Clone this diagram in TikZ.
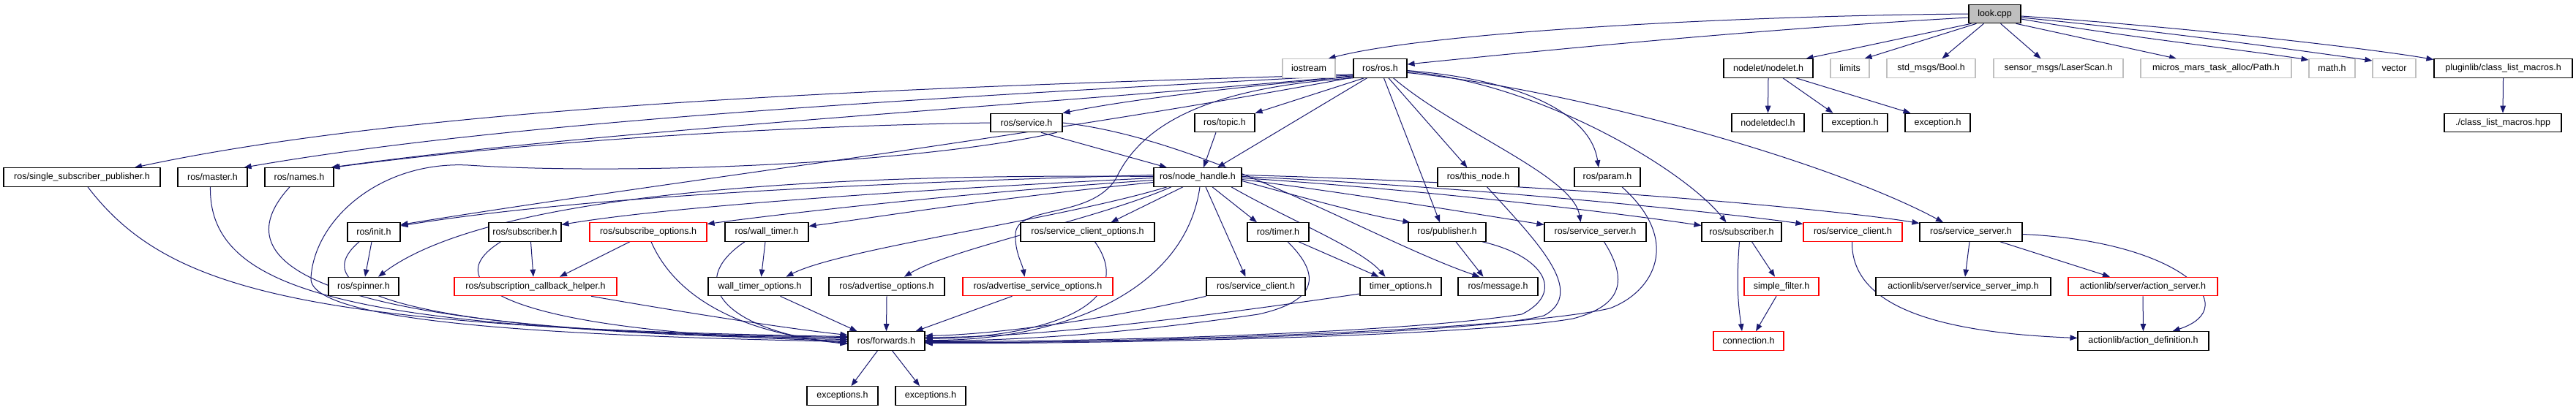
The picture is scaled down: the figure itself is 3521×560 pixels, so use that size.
\documentclass[tikz,border=0pt]{standalone}
\usepackage{fontspec}
\setmainfont{Liberation Sans}
\usetikzlibrary{arrows.meta}
\definecolor{edgeblue}{HTML}{191970}
\definecolor{lightframe}{HTML}{BFBFBF}
\definecolor{lookfill}{HTML}{BFBFBF}
\definecolor{redframe}{HTML}{FF0000}
\pgfdeclarelayer{backmost}
\pgfdeclarelayer{edgelayer}
\pgfsetlayers{backmost,edgelayer,main}
\begin{document}
\begin{tikzpicture}[x=1pt,y=-1pt,
  bx/.style={draw=black,fill=white,line width=1.1pt,inner sep=0pt,minimum height=25.5pt,
    font=\fontsize{12.5}{15}\selectfont,anchor=center},
  gbx/.style={bx,draw=lightframe},
  rbx/.style={bx,draw=redframe},
  e/.style={draw=edgeblue,line width=1pt,-{Triangle[length=10pt,width=7.5pt]}}]
\useasboundingbox (0,0) rectangle (3521,560);
\begin{pgfonlayer}{backmost}
\fill[white] (0,0) rectangle (3521,560);
\end{pgfonlayer}
% row 1
\node[bx,fill=lookfill,minimum width=71pt] (look) at (2726.5,19) {look.cpp};
% row 2
\node[gbx,minimum width=72pt] (iostream) at (1789,93.5) {iostream};
\node[bx,minimum width=73pt] (ros) at (1886.5,93.5) {ros/ros.h};
\node[bx,minimum width=122pt] (nodelet) at (2417,93.5) {nodelet/nodelet.h};
\node[gbx,minimum width=53pt] (limits) at (2528.5,93.5) {limits};
\node[gbx,minimum width=121pt] (bool) at (2639.5,93.5) {std\_msgs/Bool.h};
\node[gbx,minimum width=177pt] (laser) at (2813.5,93.5) {sensor\_msgs/LaserScan.h};
\node[gbx,minimum width=206pt] (path) at (3029,93.5) {micros\_mars\_task\_alloc/Path.h};
\node[gbx,minimum width=63pt] (math) at (3187.5,93.5) {math.h};
\node[gbx,minimum width=59pt] (vector) at (3272.5,93.5) {vector};
\node[bx,minimum width=189pt] (plugin) at (3421.5,93.5) {pluginlib/class\_list\_macros.h};
% row 3
\node[bx,minimum width=98pt] (service) at (1403,168) {ros/service.h};
\node[bx,minimum width=82pt] (topic) at (1674,168) {ros/topic.h};
\node[bx,minimum width=99pt] (ndecl) at (2416.5,168) {nodeletdecl.h};
\node[bx,minimum width=89pt] (exca) at (2535.5,168) {exception.h};
\node[bx,minimum width=89pt] (excb) at (2648.5,168) {exception.h};
\node[bx,minimum width=160pt] (clm) at (3421,168) {./class\_list\_macros.hpp};
% row 4
\node[bx,minimum width=214pt] (single) at (112,242.5) {ros/single\_subscriber\_publisher.h};
\node[bx,minimum width=95pt] (master) at (290.5,242.5) {ros/master.h};
\node[bx,minimum width=94pt] (names) at (409,242.5) {ros/names.h};
\node[bx,minimum width=120pt] (nh) at (1637,242.5) {ros/node\_handle.h};
\node[bx,minimum width=111pt] (thisnode) at (2020.5,242.5) {ros/this\_node.h};
\node[bx,minimum width=90pt] (param) at (2197,242.5) {ros/param.h};
% row 5
\node[bx,minimum width=72pt] (init) at (511,317.5) {ros/init.h};
\node[bx,minimum width=99pt] (subL) at (717.5,317.5) {ros/subscriber.h};
\node[rbx,minimum width=160pt] (subopt) at (886,317.5) {ros/subscribe\_options.h};
\node[bx,minimum width=114pt] (walltimer) at (1048,317.5) {ros/wall\_timer.h};
\node[bx,minimum width=183pt] (scopt) at (1486.5,317.5) {ros/service\_client\_options.h};
\node[bx,minimum width=84pt] (timer) at (1747,317.5) {ros/timer.h};
\node[bx,minimum width=106pt] (pub) at (1978,317.5) {ros/publisher.h};
\node[bx,minimum width=139pt] (ssL) at (2180.5,317.5) {ros/service\_server.h};
\node[bx,minimum width=109pt] (subR) at (2380.5,317.5) {ros/subscriber.h};
\node[rbx,minimum width=135pt] (scR) at (2532.5,317.5) {ros/service\_client.h};
\node[bx,minimum width=140pt] (ssR) at (2694,317.5) {ros/service\_server.h};
% row 6
\node[bx,minimum width=96pt] (spinner) at (497,392) {ros/spinner.h};
\node[rbx,minimum width=222pt] (scbh) at (732,392) {ros/subscription\_callback\_helper.h};
\node[bx,minimum width=141pt] (wto) at (1038.5,392) {wall\_timer\_options.h};
\node[bx,minimum width=158pt] (advopt) at (1212,392) {ros/advertise\_options.h};
\node[rbx,minimum width=205pt] (advsopt) at (1418.5,392) {ros/advertise\_service\_options.h};
\node[bx,minimum width=135pt] (scB) at (1716.5,392) {ros/service\_client.h};
\node[bx,minimum width=111pt] (tto) at (1914.5,392) {timer\_options.h};
\node[bx,minimum width=109pt] (msg) at (2047.5,392) {ros/message.h};
\node[rbx,minimum width=102pt] (sfilter) at (2435,392) {simple\_filter.h};
\node[bx,minimum width=239pt] (ssimp) at (2683.5,392) {actionlib/server/service\_server\_imp.h};
\node[rbx,minimum width=204pt] (aserver) at (2929,392) {actionlib/server/action\_server.h};
% row 7
\node[bx,minimum width=105pt] (fwd) at (1211.5,466.5) {ros/forwards.h};
\node[rbx,minimum width=96pt] (conn) at (2390,466.5) {connection.h};
\node[bx,minimum width=179pt] (adef) at (2929.5,466.5) {actionlib/action\_definition.h};
% row 8
\node[bx,minimum width=97pt] (exa) at (1151.5,541.5) {exceptions.h};
\node[bx,minimum width=96pt] (exb) at (1272,541.5) {exceptions.h};

\begin{pgfonlayer}{edgelayer}
% ---- edges from look.cpp
\draw[e] (look.west) .. controls (2350,22) and (1950,45) .. ([xshift=-10pt]iostream.north east);
\draw[e] ([yshift=-5pt]look.west) .. controls (2400,40) and (2100,70) .. ([yshift=5.5pt]ros.east);
\draw[e] ([xshift=4pt]look.south west) -- ([xshift=-10pt]nodelet.north east);
\draw[e] ([xshift=11pt]look.south west) -- ([xshift=-7pt]limits.north east);
\draw[e] ([xshift=-15pt]look.south) -- ([xshift=15pt]bool.north);
\draw[e] ([xshift=8pt]look.south) -- ([xshift=-24pt]laser.north);
\draw[e] ([xshift=-7pt]look.south east) -- ([xshift=-54pt]path.north);
\draw[e] ([yshift=-7pt]look.east) .. controls (2900,50) and (3080,70) .. ([yshift=11.5pt]math.west);
\draw[e] ([yshift=-5pt]look.east) .. controls (2950,42) and (3150,70) .. ([yshift=10.5pt]vector.west);
\draw[e] ([yshift=-3pt]look.east) .. controls (3000,38) and (3250,68) .. ([yshift=12pt]plugin.west);
% nodelet, pluginlib
\draw[e] (nodelet.south) -- (ndecl.north);
\draw[e] ([xshift=20pt]nodelet.south) -- ([xshift=-30pt]exca.north);
\draw[e] ([xshift=38pt]nodelet.south) -- ([xshift=8pt]excb.north west);
\draw[e] (plugin.south) -- (clm.north);
% ---- edges from ros/ros.h
\draw[e] ([yshift=5pt]ros.south west) .. controls (1300,118) and (600,140) .. ([xshift=72pt]single.north);
\draw[e] ([yshift=4pt]ros.south west) .. controls (1300,132) and (700,165) .. ([xshift=-5pt]master.north east);
\draw[e] ([yshift=3pt]ros.south west) .. controls (1400,145) and (800,180) .. ([xshift=-4pt]names.north east);
\draw[e] ([yshift=2pt]ros.south west) .. controls (1700,118) and (1550,135) .. (service.north east);
\draw[e] ([yshift=1pt]ros.south west) .. controls (1400,190) and (900,250) .. ([yshift=10pt]init.east);
\draw[e] (ros.south west) .. controls (1650,120) and (1560,170) .. (1525,245)
   .. controls (1490,300) and (1390,280) .. (1388,320) .. controls (1387,345) and (1397,360) .. ([xshift=-18pt]advsopt.north);
\draw[e] ([xshift=-22pt]ros.south) -- (topic.north east);
\draw[e] ([xshift=-18pt]ros.south) -- ([xshift=27pt]nh.north);
\draw[e] ([xshift=5pt]ros.south) -- ([xshift=-10pt]pub.north);
\draw[e] ([xshift=11.5pt]ros.south) -- ([xshift=-15pt]thisnode.north);
\draw[e] ([xshift=18pt]ros.south) .. controls (1990,180) and (2150,240) .. ([xshift=-20pt]ssL.north);
\draw[e] ([yshift=-3pt]ros.east) .. controls (2090,110) and (2175,160) .. ([xshift=-12pt]param.north);
\draw[e] ([yshift=-4.5pt]ros.east) .. controls (2100,112) and (2300,230) .. ([xshift=-21pt]subR.north);
\draw[e] ([yshift=-6pt]ros.east) .. controls (2150,122) and (2500,220) .. ([xshift=-38pt]ssR.north);
% ---- service, topic
\draw[e] (service.west) .. controls (1100,172) and (750,190) .. ([xshift=-2pt]names.north east);
\draw[e] ([xshift=20pt]service.south) -- ([xshift=-42pt]nh.north);
\draw[e] (service.east) .. controls (1650,190) and (1880,330) .. ([xshift=-25pt]msg.north);
\draw[e] ([xshift=-8pt]service.south east) .. controls (1250,225) and (850,240) .. (640,226)
   .. controls (520,220) and (430,300) .. (425,380) .. controls (420,445) and (800,460) .. ([yshift=-1pt]fwd.west);
\draw[e] ([xshift=-12pt]topic.south) -- ([xshift=8pt]nh.north);
% ---- node_handle
\draw[e] ([yshift=3pt]nh.west) .. controls (1200,250) and (800,268) .. ([yshift=8.5pt]init.east);
\draw[e] ([yshift=1pt]nh.west) .. controls (900,235) and (620,300) .. ([xshift=20pt]spinner.north);
\draw[e] ([yshift=-1pt]nh.west) .. controls (1200,262) and (900,285) .. ([yshift=10pt]subL.east);
\draw[e] ([yshift=-4pt]nh.west) .. controls (1300,265) and (1050,295) .. ([yshift=11pt]subopt.east);
\draw[e] ([yshift=-7pt]nh.west) .. controls (1350,272) and (1180,300) .. ([yshift=8pt]walltimer.east);
\draw[e] ([xshift=-42pt]nh.south) .. controls (1450,300) and (1150,340) .. ([xshift=36pt]wto.north);
\draw[e] ([xshift=-36pt]nh.south) .. controls (1500,300) and (1300,340) .. ([xshift=24pt]advopt.north);
\draw[e] ([xshift=-20pt]nh.south) -- ([xshift=32pt]scopt.north);
\draw[e] ([xshift=3pt]nh.south) .. controls (1620,400) and (1450,466) .. ([yshift=1pt]fwd.east);
\draw[e] ([xshift=11pt]nh.south) -- ([xshift=-14pt]scB.north);
\draw[e] ([xshift=20pt]nh.south) -- ([xshift=-29pt]timer.north);
\draw[e] ([xshift=46pt]nh.south) .. controls (1760,300) and (1860,340) .. ([xshift=-21pt]tto.north);
\draw[e] ([yshift=-5pt]nh.east) .. controls (1780,270) and (1870,295) .. ([xshift=3pt]pub.north west);
\draw[e] ([yshift=-3pt]nh.east) .. controls (1850,265) and (2000,290) .. ([yshift=10pt]ssL.west);
\draw[e] ([yshift=-1pt]nh.east) .. controls (1950,260) and (2200,290) .. ([yshift=9pt]subR.west);
\draw[e] ([yshift=1pt]nh.east) .. controls (2000,255) and (2350,290) .. ([yshift=11pt]scR.west);
\draw[e] ([yshift=3pt]nh.east) .. controls (2100,250) and (2500,285) .. ([yshift=12pt]ssR.west);
% ---- into forwards from the left
\draw[e] ([xshift=8pt]single.south) .. controls (230,400) and (420,448) .. ([yshift=6pt]fwd.west);
\draw[e] ([xshift=-3pt]master.south) .. controls (285,400) and (480,452) .. ([yshift=5pt]fwd.west);
\draw[e] ([xshift=-13pt]names.south) .. controls (310,350) and (380,455) .. ([yshift=4pt]fwd.west);
\draw[e] ([xshift=-20pt]init.south) .. controls (410,400) and (560,455) .. ([yshift=2pt]fwd.west);
\draw[e] ([xshift=-33pt]subL.south) .. controls (590,390) and (700,455) .. ([yshift=0pt]fwd.west);
\draw[e] ([xshift=76pt]scbh.south) .. controls (950,430) and (1080,450) .. ([yshift=8pt]fwd.west);
\draw[e] ([xshift=4pt]subopt.south) .. controls (920,400) and (1000,455) .. ([yshift=-3pt]fwd.west);
\draw[e] ([xshift=-30pt]walltimer.south) .. controls (930,390) and (1000,455) .. ([yshift=-4pt]fwd.west);
\draw[e] ([xshift=28pt]wto.south) -- ([xshift=-40pt]fwd.north);
\draw[e] (advopt.south) -- (fwd.north);
\draw[e] ([xshift=-35pt]advsopt.south) -- ([xshift=40pt]fwd.north);
% ---- into forwards from the right
\draw[e] ([xshift=10pt]scopt.south) .. controls (1560,420) and (1420,462) .. ([yshift=3pt]fwd.east);
\draw[e] (scB.south west) .. controls (1500,440) and (1350,458) .. ([yshift=7pt]fwd.east);
\draw[e] ([yshift=-10pt]tto.west) .. controls (1600,440) and (1400,462) .. ([yshift=5pt]fwd.east);
\draw[e] ([xshift=13pt]timer.south) .. controls (1800,370) and (1810,410) .. (1720,430) .. controls (1550,455) and (1400,466) .. ([yshift=0pt]fwd.east);
\draw[e] ([xshift=48pt]pub.south) .. controls (2110,350) and (2140,400) .. (2080,430) .. controls (1900,458) and (1450,468) .. ([yshift=-1pt]fwd.east);
\draw[e] ([xshift=12pt]thisnode.south) .. controls (2100,330) and (2170,400) .. (2110,432) .. controls (2000,460) and (1450,470) .. ([yshift=-2pt]fwd.east);
\draw[e] ([xshift=12pt]ssL.south) .. controls (2230,390) and (2210,420) .. (2150,436) .. controls (2000,462) and (1450,471) .. ([yshift=-3pt]fwd.east);
\draw[e] ([xshift=20pt]param.south) .. controls (2300,330) and (2260,400) .. (2200,422) .. controls (2050,456) and (1450,470) .. ([yshift=-2.5pt]fwd.east);
% ---- other
\draw[e] ([xshift=-3pt]init.south) -- ([xshift=2pt]spinner.north);
\draw[e] ([xshift=8pt]subL.south) -- ([xshift=-3pt]scbh.north);
\draw[e] ([xshift=-25pt]subopt.south) -- ([xshift=33pt]scbh.north);
\draw[e] ([xshift=-2pt]walltimer.south) -- ([xshift=2pt]wto.north);
\draw[e] ([xshift=28pt]timer.south) -- ([xshift=-30pt]tto.north);
\draw[e] ([xshift=12pt]pub.south) -- ([xshift=-20pt]msg.north);
\draw[e] ([xshift=-3pt]subR.south) .. controls (2372,400) and (2378,430) .. ([xshift=-9pt]conn.north);
\draw[e] ([xshift=14pt]subR.south) -- ([xshift=-9pt]sfilter.north);
\draw[e] ([xshift=-7pt]sfilter.south) -- ([xshift=10pt]conn.north);
\draw[e] ([xshift=-1pt]scR.south) .. controls (2530,420) and (2650,455) .. ([yshift=4pt]adef.west);
\draw[e] ([xshift=-2pt]ssR.south) -- ([xshift=2.5pt]ssimp.north);
\draw[e] ([xshift=40pt]ssR.south) -- ([xshift=-45pt]aserver.north);
\draw[e] ([yshift=-3pt]ssR.east) .. controls (2980,330) and (3070,420) .. ([xshift=40pt]adef.north);
\draw[e] (aserver.south) -- (adef.north);
\draw[e] ([xshift=-12pt]fwd.south) -- ([xshift=12pt]exa.north);
\draw[e] ([xshift=8pt]fwd.south) -- ([xshift=-15pt]exb.north);
\end{pgfonlayer}
\end{tikzpicture}
\end{document}
